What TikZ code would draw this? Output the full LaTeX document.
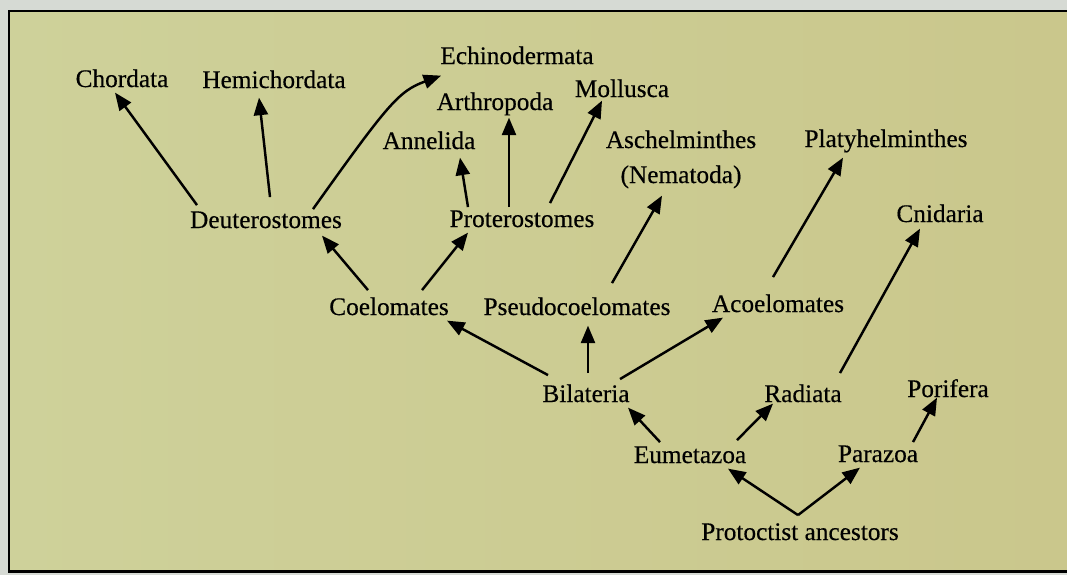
\documentclass[tikz,border=0pt]{standalone}
\usepackage{fontspec}
\setmainfont{Liberation Serif}
\newfontfamily\inkfont[FakeBold=0.4]{Liberation Serif}
\usetikzlibrary{arrows.meta}
\definecolor{pagegray}{RGB}{214,218,212}
\definecolor{paperL}{RGB}{206,209,154}
\definecolor{paperR}{RGB}{202,199,140}

\begin{document}
\begin{tikzpicture}[x=0.02cm, y=-0.02cm,
    every node/.style={font=\inkfont\fontsize{14.4}{17}\selectfont, inner sep=0pt,
                       text height=10pt, text depth=3pt, anchor=base},
    arr/.style={-{Triangle[length=10pt,width=8pt]}, line width=1.4pt}]
\useasboundingbox (0,0) rectangle (1067,575);

% --- page and frame ---
\fill[pagegray] (0,0) rectangle (1067,575);
\shade[left color=paperL, right color=paperR] (9,11) rectangle (1067,571);
\draw[line width=1.7pt] (1067,11) -- (9,11) -- (9,571) -- (1067,571);

% --- top row: phyla ---
\node (chord)  at (122,87)  {Chordata};
\node (hemi)   at (274,88)  {Hemichordata};
\node (echi)   at (517,64)  {Echinodermata};
\node (arthro) at (495,110) {Arthropoda};
\node (moll)   at (622,97)  {Mollusca};
\node (annel)  at (429,149) {Annelida};
\node (asch)   at (681,148) {Aschelminthes};
\node (nema)   at (681,183) {(Nematoda)};
\node (platy)  at (886,147) {Platyhelminthes};
\node (cnid)   at (940,222) {Cnidaria};

% --- groupings ---
\node (deut)   at (266,228) {Deuterostomes};
\node (prot)   at (522,227) {Proterostomes};
\node (coel)   at (389,315) {Coelomates};
\node (pseudo) at (577,315) {Pseudocoelomates};
\node (acoel)  at (778,312) {Acoelomates};
\node (bil)    at (586,402) {Bilateria};
\node (rad)    at (803,402) {Radiata};
\node (pori)   at (948,397) {Porifera};
\node (eume)   at (690,463) {Eumetazoa};
\node (para)   at (878,462) {Parazoa};
\node (proto)  at (800,540) {Protoctist ancestors};

% --- branches ---
\draw[arr] ([shift={(-69,-5)}]deut.north) -- ([shift={(-7,0)}]chord.south);
\draw[arr] ([shift={(4,-13)}]deut.north) -- ([shift={(-15,4)}]hemi.south);
\draw[arr] ([shift={(47,-1)}]deut.north) .. controls +(-54.5:130) and +(160:45) .. ([shift={(1,6)}]echi.south west);

\draw[arr] ([shift={(-54,-2)}]prot.north) -- ([shift={(31,3)}]annel.south);
\draw[arr] ([shift={(-13,-2)}]prot.north) -- ([shift={(14,2)}]arthro.south);
\draw[arr] ([shift={(28,-6)}]prot.north) -- ([shift={(-20,-2)}]moll.south);

\draw[arr] ([shift={(-21,-7)}]coel.north) -- ([shift={(56,2)}]deut.south);
\draw[arr] ([shift={(33,-7)}]coel.north) -- ([shift={(-54,0)}]prot.south);
\draw[arr] ([shift={(35,-14)}]pseudo.north) -- ([shift={(-19,7)}]nema.south);
\draw[arr] ([shift={(-5,-17)}]acoel.north) -- ([shift={(-43,5)}]platy.south);

\draw[arr] ([shift={(-38,-9)}]bil.north) -- ([shift={(58,0)}]coel.south);
\draw[arr] ([shift={(2,-11)}]bil.north) -- ([shift={(11,5)}]pseudo.south);
\draw[arr] ([shift={(34,-5)}]bil.north) -- ([shift={(-55,0)}]acoel.south);
\draw[arr] ([shift={(37,-11)}]rad.north) -- ([shift={(-20,1)}]cnid.south);

\draw[arr] ([shift={(-30,-3)}]eume.north) -- ([shift={(42,0)}]bil.south);
\draw[arr] ([shift={(47,-5)}]eume.north) -- ([shift={(-30,-4)}]rad.south);
\draw[arr] ([shift={(35,-2)}]para.north) -- ([shift={(-11,-5)}]pori.south);

% --- root ---
\coordinate (fork) at ([shift={(-2,-7)}]proto.north);
\draw[arr] (fork) -- ([shift={(38,0)}]eume.south);
\draw[arr] (fork) -- ([shift={(-18,0)}]para.south);

\end{tikzpicture}
\end{document}
